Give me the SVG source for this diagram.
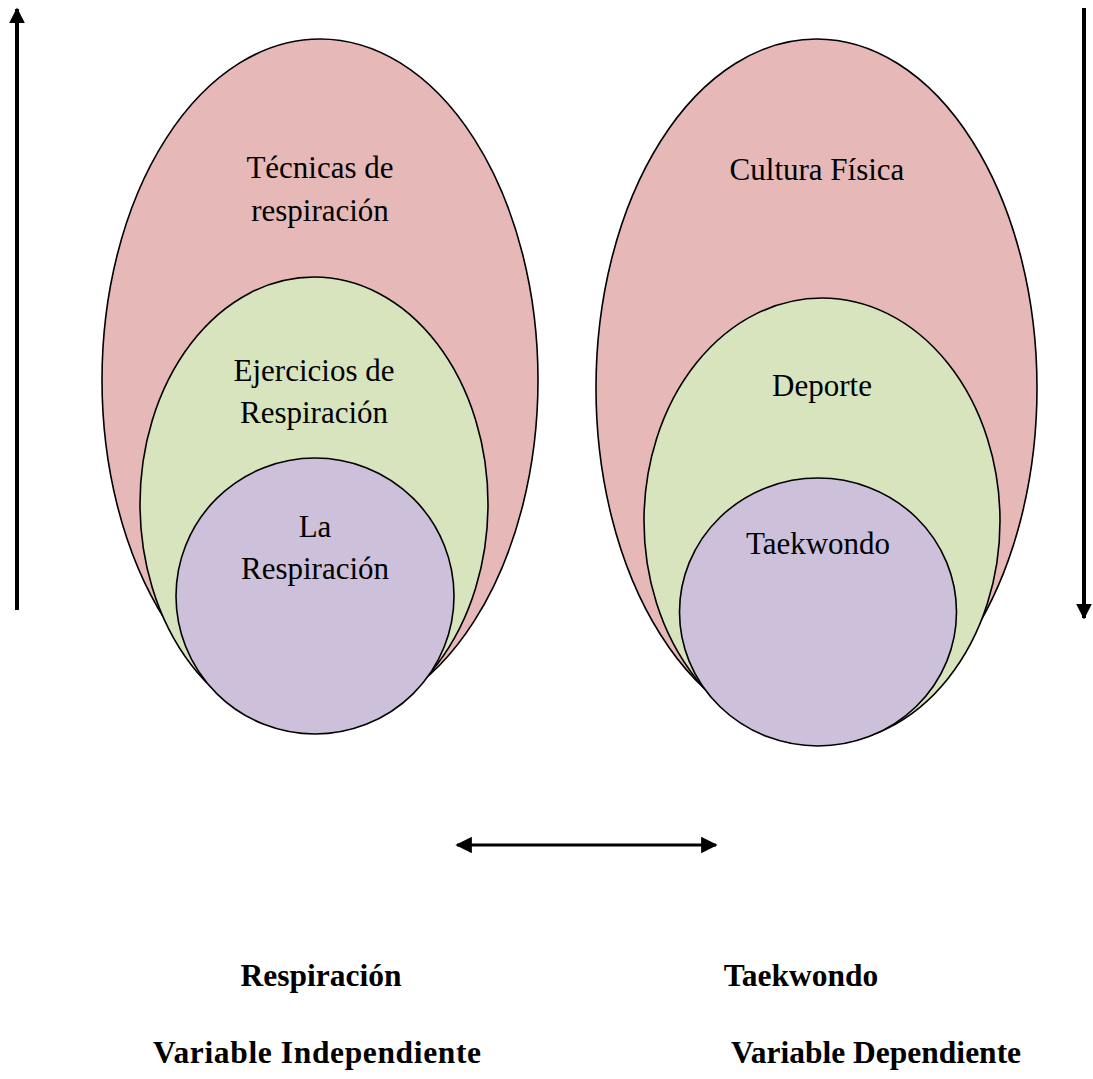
<svg xmlns="http://www.w3.org/2000/svg" width="1093" height="1079" viewBox="0 0 1093 1079">
<style>
.e{stroke:#000;stroke-width:1.6}
.p{fill:#E6B8B7}.g{fill:#D7E4BD}.v{fill:#CCC0DA}
text{font-family:"Liberation Serif","Times New Roman",serif;font-size:31px;fill:#000;text-anchor:middle}
.b{font-weight:bold;font-size:31.5px}
</style>
<defs>
<marker id="ah" viewBox="0 0 10 10" refX="9" refY="5" markerWidth="4" markerHeight="4" orient="auto-start-reverse" markerUnits="strokeWidth">
<path d="M0,0 L10,5 L0,10 Z" fill="#000"/>
</marker>
<marker id="ah2" viewBox="0 0 10 10" refX="9" refY="5" markerWidth="5.5" markerHeight="5.5" orient="auto-start-reverse" markerUnits="strokeWidth">
<path d="M0,0 L10,5 L0,10 Z" fill="#000"/>
</marker>
</defs>
<g id="n-tecnicas"><ellipse class="e p" cx="320" cy="380" rx="218" ry="341"/><text x="320" y="178">Técnicas de</text><text x="320" y="221">respiración</text></g>
<g id="n-ejercicios"><ellipse class="e g" cx="314" cy="504" rx="174" ry="227"/><text x="314" y="381">Ejercicios de</text><text x="314" y="423">Respiración</text></g>
<g id="n-la-respiracion"><ellipse class="e v" cx="315" cy="596" rx="139" ry="138"/><text x="315" y="537">La</text><text x="315" y="579">Respiración</text></g>
<g id="n-cultura"><ellipse class="e p" cx="816.5" cy="388" rx="220.5" ry="349"/><text x="817" y="180">Cultura Física</text></g>
<g id="n-deporte"><ellipse class="e g" cx="822" cy="521" rx="178" ry="223"/><text x="822" y="396">Deporte</text></g>
<g id="n-taekwondo"><ellipse class="e v" cx="818" cy="612" rx="138.5" ry="134"/><text x="818" y="554">Taekwondo</text></g>
<g id="connectors" stroke="#000" fill="none">
<line x1="17" y1="610" x2="17" y2="9" stroke-width="4" marker-end="url(#ah)"/>
<line x1="1084" y1="8" x2="1084" y2="618" stroke-width="4" marker-end="url(#ah)"/>
<line x1="457" y1="845" x2="716" y2="845" stroke-width="3" marker-start="url(#ah2)" marker-end="url(#ah2)"/>
</g>
<g id="labels">
<text class="b" x="321" y="986">Respiración</text>
<text class="b" x="801" y="986">Taekwondo</text>
<text class="b" x="317" y="1063" textLength="328" lengthAdjust="spacing">Variable Independiente</text>
<text class="b" x="876" y="1063">Variable Dependiente</text>
</g>
</svg>
